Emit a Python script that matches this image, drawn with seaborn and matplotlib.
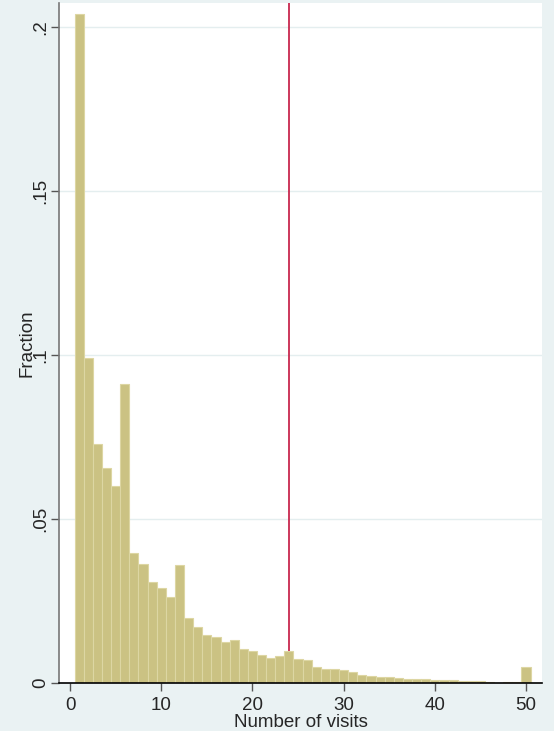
import numpy as np
import pandas as pd
import matplotlib
matplotlib.use("Agg")
import matplotlib.pyplot as plt
import seaborn as sns

# Data: number of visits (bin centres) and fraction per bin
visits = list(range(1, 51))
fraction = [
    0.2040, 0.0990, 0.0728, 0.0655, 0.0601, 0.0911, 0.0395, 0.0363, 0.0307, 0.0289,
    0.0263, 0.0359, 0.0197, 0.0172, 0.0147, 0.0139, 0.0124, 0.0130, 0.0103, 0.0097,
    0.0084, 0.0075, 0.0081, 0.0099, 0.0073, 0.0069, 0.0048, 0.0042, 0.0043, 0.0040,
    0.0033, 0.0025, 0.0021, 0.0019, 0.0017, 0.0014, 0.0012, 0.0011, 0.0011, 0.0010,
    0.0009, 0.0008, 0.0007, 0.0006, 0.0005, 0.0003, 0.0001, 0.0004, 0.0003, 0.0048,
]
ref_line = 24
xticks = [0, 10, 20, 30, 40, 50]
yticks = [0, 0.05, 0.10, 0.15, 0.20]
ytick_labels = ["0", ".05", ".1", ".15", ".2"]

df = pd.DataFrame({"visits": visits, "fraction": fraction})

sns.set_style("white")
plt.rcParams["font.family"] = ["Liberation Sans", "DejaVu Sans"]

bg = "#EAF2F3"
fig = plt.figure(figsize=(5.54, 7.31), dpi=100, facecolor=bg)
ax = fig.add_axes([59 / 554, 48 / 731, (542 - 59) / 554, (683 - 3) / 731])
ax.set_facecolor("white")

ax.axvline(ref_line, color="#C8284E", lw=1.3, zorder=0.8)

sns.histplot(data=df, x="visits", weights="fraction",
             bins=50, binrange=(0.5, 50.5),
             color="#CBC283", edgecolor="#DDD6A3", linewidth=0.8,
             alpha=1.0, ax=ax, zorder=2)

ax.set_xlim(-1.21, 51.75)
ax.set_ylim(0, 0.2073)
ax.set_xticks(xticks)
ax.set_xticklabels([str(t) for t in xticks], fontsize=13.5)
ax.set_yticks(yticks)
ax.set_yticklabels(ytick_labels, fontsize=13.5, rotation=90, va="center")

ax.grid(axis="y", color="#E4EEEF", lw=1.0)
ax.grid(axis="x", visible=False)
ax.set_axisbelow(True)

for s in ["top", "right"]:
    ax.spines[s].set_visible(False)
ax.spines["left"].set_color("#777777")
ax.spines["left"].set_linewidth(1.2)
ax.spines["bottom"].set_color("black")
ax.spines["bottom"].set_linewidth(1.2)

ax.tick_params(axis="x", bottom=True, direction="out", length=6, width=1,
               color="#555555", pad=4)
ax.tick_params(axis="y", left=True, direction="out", length=6, width=1,
               color="#555555", pad=1)

ax.set_xlabel("Number of visits", fontsize=13.5, labelpad=0)
ax.set_ylabel("Fraction", fontsize=13.5, labelpad=-2)

fig.savefig("out.png", dpi=100, facecolor=bg)
